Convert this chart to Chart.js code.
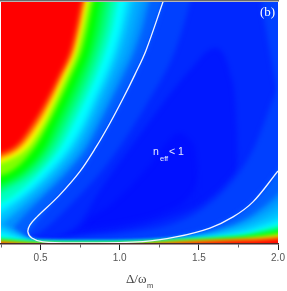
<!DOCTYPE html>
<html>
<head>
<meta charset="utf-8">
<style>
html, body { margin: 0; padding: 0; background: #fff; }
canvas { display: block; }
</style>
<script src="https://cdn.jsdelivr.net/npm/chart.js@4/dist/chart.umd.min.js"></script>
</head>
<body>
<canvas id="c" width="287" height="291" style="width:287px;height:291px"></canvas>
<script>
const xTicks = [0.5, 1.0, 1.5, 2.0];
const xMinorTicks = [0.25, 0.75, 1.25, 1.75];

// colour of each contour level, lowest first. Everything outside a contour gets its colour
const lobeColors = ['#0018ff', '#0028ff', '#0040ff'];
const levelColors = ['#0060ff', '#0090ff', '#00a8ff', '#00c0ff', '#00e0ff', '#00ffff', '#00ffc0', '#00ff80', '#00ff40', '#00ff00', '#80ff00', '#ffff00', '#ff8000', '#ff0000'];

// the three deep blue lobes, read as y against delta
const lobeUpperX = [
  [0.20, 0.70, 0.81, 0.94, 1.19, 1.285, 1.38, 1.445, 1.49, 1.495, 1.52, 2.10],
  [0.20, 0.60, 0.75, 0.875, 1.147, 1.445, 1.60, 1.70, 1.74, 1.745, 1.80, 2.10],
  [0.20, 0.496, 0.686, 0.94, 1.19, 1.35, 1.445, 1.50, 1.85, 1.92, 1.99, 2.10]
];
const lobeUpperY = [
  [0, 0.02, 0.107, 0.16, 0.326, 0.41, 0.459, 0.43, 0.326, 0.223, 0, 0],
  [0, 0.03, 0.09, 0.223, 0.47, 0.72, 0.81, 0.70, 0.47, 0.305, 0, 0],
  [0, 0.05, 0.16, 0.347, 0.60, 0.80, 1.0, 1.15, 1.15, 0.90, 0.65, 0.35]
];
const lobeLowerX = [
  [0.20, 0.81, 1.065, 1.285, 1.445, 1.55, 2.10],
  [0.20, 0.50, 0.80, 1.10, 1.30, 1.50, 1.65, 1.75, 1.85, 2.10],
  [0.20, 0.50, 0.80, 1.10, 1.30, 1.50, 1.70, 1.85, 1.97, 2.10]
];
const lobeLowerY = [
  [0.05, 0.066, 0.09, 0.132, 0.20, 0.33, 0.70],
  [0.03, 0.025, 0.04, 0.07, 0.105, 0.16, 0.24, 0.32, 0.45, 0.70],
  [0.03, 0.015, 0.03, 0.05, 0.075, 0.135, 0.25, 0.40, 0.60, 0.80]
];

// upper branches of the remaining levels: delta at each scan row
const rows = [1.1, 1.0, 0.9, 0.8, 0.7, 0.6, 0.5, 0.4, 0.3, 0.2, 0.1, 0.05, 0];
const upperLevels = [
  [1.323, 1.273, 1.223, 1.166, 1.096, 1.02, 0.939, 0.85, 0.749, 0.617, 0.484, 0.42, 0.25],
  [1.235, 1.185, 1.147, 1.096, 1.027, 0.951, 0.875, 0.793, 0.673, 0.522, 0.37, 0.30, 0.10],
  [1.19, 1.141, 1.103, 1.059, 0.989, 0.92, 0.844, 0.762, 0.635, 0.484, 0.294, 0.22, 0.05],
  [1.145, 1.096, 1.059, 1.014, 0.951, 0.882, 0.812, 0.73, 0.604, 0.446, 0.27, 0.10, 0.0],
  [1.115, 1.065, 1.027, 0.983, 0.926, 0.856, 0.787, 0.699, 0.572, 0.408, 0.20, 0.05, -0.02],
  [1.083, 1.033, 1.002, 0.958, 0.90, 0.831, 0.762, 0.673, 0.541, 0.376, 0.13, 0.0, -0.05],
  [1.04, 0.989, 0.958, 0.913, 0.856, 0.787, 0.711, 0.629, 0.503, 0.332, 0.05, -0.02, -0.06],
  [1.0, 0.951, 0.92, 0.875, 0.818, 0.749, 0.673, 0.591, 0.465, 0.22, 0.0, -0.05, -0.1],
  [0.96, 0.913, 0.882, 0.838, 0.781, 0.711, 0.635, 0.553, 0.42, 0.16, -0.02, -0.06, -0.1],
  [0.925, 0.875, 0.844, 0.806, 0.743, 0.673, 0.597, 0.522, 0.383, 0.10, -0.03, -0.07, -0.11],
  [0.88, 0.831, 0.80, 0.762, 0.699, 0.629, 0.553, 0.465, 0.313, 0.0, -0.05, -0.09, -0.12],
  [0.85, 0.80, 0.768, 0.73, 0.667, 0.597, 0.522, 0.42, 0.144, -0.02, -0.06, -0.1, -0.15],
  [0.83, 0.78, 0.749, 0.711, 0.642, 0.572, 0.49, 0.376, 0.07, -0.05, -0.1, -0.15, -0.2],
  [0.81, 0.762, 0.73, 0.692, 0.623, 0.547, 0.458, 0.338, -0.03, -0.1, -0.15, -0.2, -0.25]
];

// lower branches of the same levels: y at each delta
const lowerDelta = [0.2, 0.5, 0.8, 1.1, 1.4, 1.6, 1.8, 1.9, 2.0, 2.1];
const lowerLevels = [
  [0.09, 0.012, 0.006, 0.009, 0.035, 0.073, 0.15, 0.215, 0.302, 0.40],
  [0.13, 0.008, 0.005, 0.007, 0.027, 0.052, 0.105, 0.15, 0.205, 0.27],
  [0.11, 0.007, 0.0045, 0.0065, 0.023, 0.046, 0.09, 0.127, 0.17, 0.225],
  [0.09, 0.006, 0.004, 0.006, 0.02, 0.04, 0.077, 0.105, 0.14, 0.185],
  [0.07, 0.0055, 0.0035, 0.0055, 0.016, 0.032, 0.06, 0.083, 0.11, 0.145],
  [0.05, 0.005, 0.003, 0.005, 0.013, 0.026, 0.044, 0.064, 0.087, 0.115],
  [0.03, 0.003, 0.002, 0.003, 0.012, 0.023, 0.038, 0.056, 0.075, 0.098],
  [0.02, 0.002, 0.001, 0.002, 0.011, 0.021, 0.034, 0.05, 0.066, 0.085],
  [0.015, 0.001, 0.0, 0.001, 0.01, 0.018, 0.03, 0.043, 0.057, 0.074],
  [0.012, 0.0, -0.002, 0.0, 0.009, 0.016, 0.027, 0.038, 0.05, 0.065],
  [0.01, -0.002, -0.004, -0.002, 0.007, 0.013, 0.022, 0.03, 0.04, 0.052],
  [0.008, -0.004, -0.006, -0.004, 0.006, 0.011, 0.018, 0.024, 0.032, 0.04],
  [0.006, -0.006, -0.008, -0.006, 0.004, 0.01, 0.016, 0.021, 0.027, 0.034],
  [0.005, -0.008, -0.01, -0.006, 0.003, 0.009, 0.014, 0.017, 0.022, 0.027]
];

// white contour n_eff = 1
const whiteX = [1.30, 1.273, 1.166, 1.096, 1.02, 0.939, 0.85, 0.749, 0.617, 0.477, 0.433, 0.42, 0.445, 0.515, 0.749, 1.147, 1.355, 1.57, 1.716, 1.842, 2.0];
const whiteY = [1.05, 1.0, 0.80, 0.70, 0.60, 0.50, 0.40, 0.30, 0.20, 0.112, 0.079, 0.05, 0.025, 0.009, 0.005, 0.01, 0.029, 0.066, 0.112, 0.174, 0.302];

const toPoints = (xs, ys) => xs.map((x, i) => ({ x: x, y: ys[i] }));

function band(points, color, target) {
  return {
    data: points,
    backgroundColor: color,
    fill: { value: target },
    showLine: true,
    pointRadius: 0,
    borderWidth: 0,
    capBezierPoints: false,
    cubicInterpolationMode: 'monotone'
  };
}

const datasets = [];
// the filler walks the datasets from last to first, so each new level goes in front
lobeColors.forEach((color, i) => {
  datasets.unshift(band(toPoints(lobeLowerX[i], lobeLowerY[i]), color, -0.1));
  datasets.unshift(band(toPoints(lobeUpperX[i], lobeUpperY[i]), color, 1.3));
});
levelColors.forEach((color, i) => {
  datasets.unshift(band(toPoints(lowerDelta, lowerLevels[i]), color, -0.1));
  datasets.unshift(band(toPoints(upperLevels[i].slice().reverse(), rows.slice().reverse()), color, 1.3));
});
datasets.unshift({
  data: toPoints(whiteX, whiteY),
  borderColor: '#f2f4ff',
  borderWidth: 1.3,
  fill: false,
  showLine: true,
  pointRadius: 0,
  tension: 0.35,
  capBezierPoints: false
});

// base colour and soft band edges, for the filled levels only
const softBands = {
  id: 'softBands',
  beforeDraw(chart) {
    const { left, top, width, height } = chart.chartArea;
    chart.ctx.fillStyle = '#0010ff';
    chart.ctx.fillRect(left, top, width, height);
    chart.ctx.filter = 'blur(2.5px)';
  },
  beforeDatasetsDraw(chart) {
    chart.ctx.filter = 'none';
  }
};

const plotText = {
  id: 'plotText',
  afterDraw(chart) {
    const ctx = chart.ctx;
    ctx.save();
    ctx.fillStyle = '#6a6a6a';
    ctx.fillRect(0, 0, 279, 1.5);
    ctx.fillStyle = '#ffffff';
    ctx.font = '13px "Liberation Serif"';
    ctx.fillText('(b)', 260, 15.5);
    ctx.fillStyle = '#e8ecff';
    ctx.font = '10.5px "Liberation Sans"';
    ctx.fillText('n', 153, 155);
    ctx.fillText('< 1', 169, 155);
    ctx.font = '7.5px "Liberation Sans"';
    ctx.fillText('eff', 160, 161);
    ctx.fillStyle = '#444444';
    ctx.font = '13px "Liberation Serif"';
    ctx.fillText('\u0394/\u03c9', 126, 283);
    ctx.font = '7.5px "Liberation Sans"';
    ctx.fillText('m', 147, 288);
    ctx.restore();
  }
};

new Chart(document.getElementById('c'), {
  type: 'scatter',
  data: { datasets: datasets },
  plugins: [softBands, plotText],
  options: {
    responsive: false,
    animation: false,
    layout: { padding: { left: 1, right: 9, top: 2, bottom: 0 } },
    plugins: {
      legend: { display: false },
      tooltip: { enabled: false },
      filler: { drawTime: 'beforeDatasetsDraw', propagate: false }
    },
    scales: {
      x: {
        type: 'linear',
        min: 0.25,
        max: 2.0,
        afterBuildTicks(axis) {
          axis.ticks = xMinorTicks.concat(xTicks).sort((a, b) => a - b).map(v => ({ value: v }));
        },
        grid: {
          z: 1,
          drawOnChartArea: false,
          tickLength: 6,
          tickWidth: 1,
          tickColor: c => xTicks.includes(c.tick.value) ? '#222222' : '#666666',
          tickBorderDash: c => xTicks.includes(c.tick.value) ? [] : [3, 10]
        },
        border: { z: 1, color: '#4a2a2a', width: 1.5 },
        ticks: {
          z: 1,
          color: '#555555',
          autoSkip: false,
          maxRotation: 0,
          padding: 2,
          font: { family: 'Liberation Sans', size: 10 },
          callback: v => xTicks.includes(v) ? v.toFixed(1) : ''
        },
        afterFit(axis) {
          axis.height = 47;
          axis.paddingLeft = 0;
          axis.paddingRight = 0;
        }
      },
      y: { type: 'linear', min: 0, max: 1, display: false }
    }
  }
});
</script>
</body>
</html>
